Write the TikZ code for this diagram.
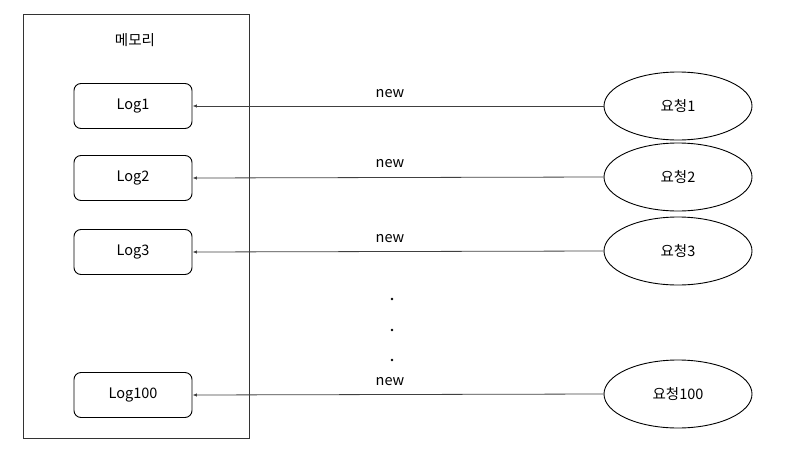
\documentclass[tikz,border=0pt]{standalone}
\usepackage{fontspec}
\setmainfont{Noto Sans CJK KR}
\usetikzlibrary{shapes.geometric,arrows.meta}
\begin{document}
\begin{tikzpicture}[x=1pt,y=-1pt,
  every node/.style={font=\fontsize{14.5}{17}\selectfont},
  membox/.style={draw=black!80,line width=1pt,minimum width=226pt,minimum height=424pt,inner sep=0pt},
  logbox/.style={draw=black,line width=0.9pt,rounded corners=7pt,minimum width=118pt,minimum height=45pt,inner sep=0pt},
  reqell/.style={ellipse,draw=black,line width=0.9pt,minimum width=148pt,minimum height=68pt,inner sep=0pt},
  arr/.style={draw=black!75,line width=0.8pt,-{Latex[length=4.5pt,width=3.5pt]}},
  lbl/.style={inner sep=0pt},
  dotmark/.style={circle,fill=black,inner sep=0pt,minimum size=2.6pt}
]
\useasboundingbox (0,0) rectangle (800,450);
\node[membox] (mem) at (136,226) {};
\node[lbl] (title) at (135,40) {메모리};
\node[logbox] (l1) at (133,106) {Log1};
\node[logbox] (l2) at (133,178) {Log2};
\node[logbox] (l3) at (133,252) {Log3};
\node[logbox] (l100) at (133,395) {Log100};
\node[reqell] (r1) at (678,106) {요청1};
\node[reqell] (r2) at (678,177) {요청2};
\node[reqell] (r3) at (678,251) {요청3};
\node[reqell] (r100) at (678,394) {요청100};
\draw[arr] (r1.west) -- (l1.east);
\draw[arr] (r2.west) -- (l2.east);
\draw[arr] (r3.west) -- (l3.east);
\draw[arr] (r100.west) -- (l100.east);
\node[lbl] (n1) at (390,94) {new};
\node[lbl] (n2) at (390,164) {new};
\node[lbl] (n3) at (390,239) {new};
\node[lbl] (n100) at (390,382) {new};
\node[dotmark] (d1) at (392,299) {};
\node[dotmark] (d2) at (392,330) {};
\node[dotmark] (d3) at (392,360) {};
\end{tikzpicture}
\end{document}
